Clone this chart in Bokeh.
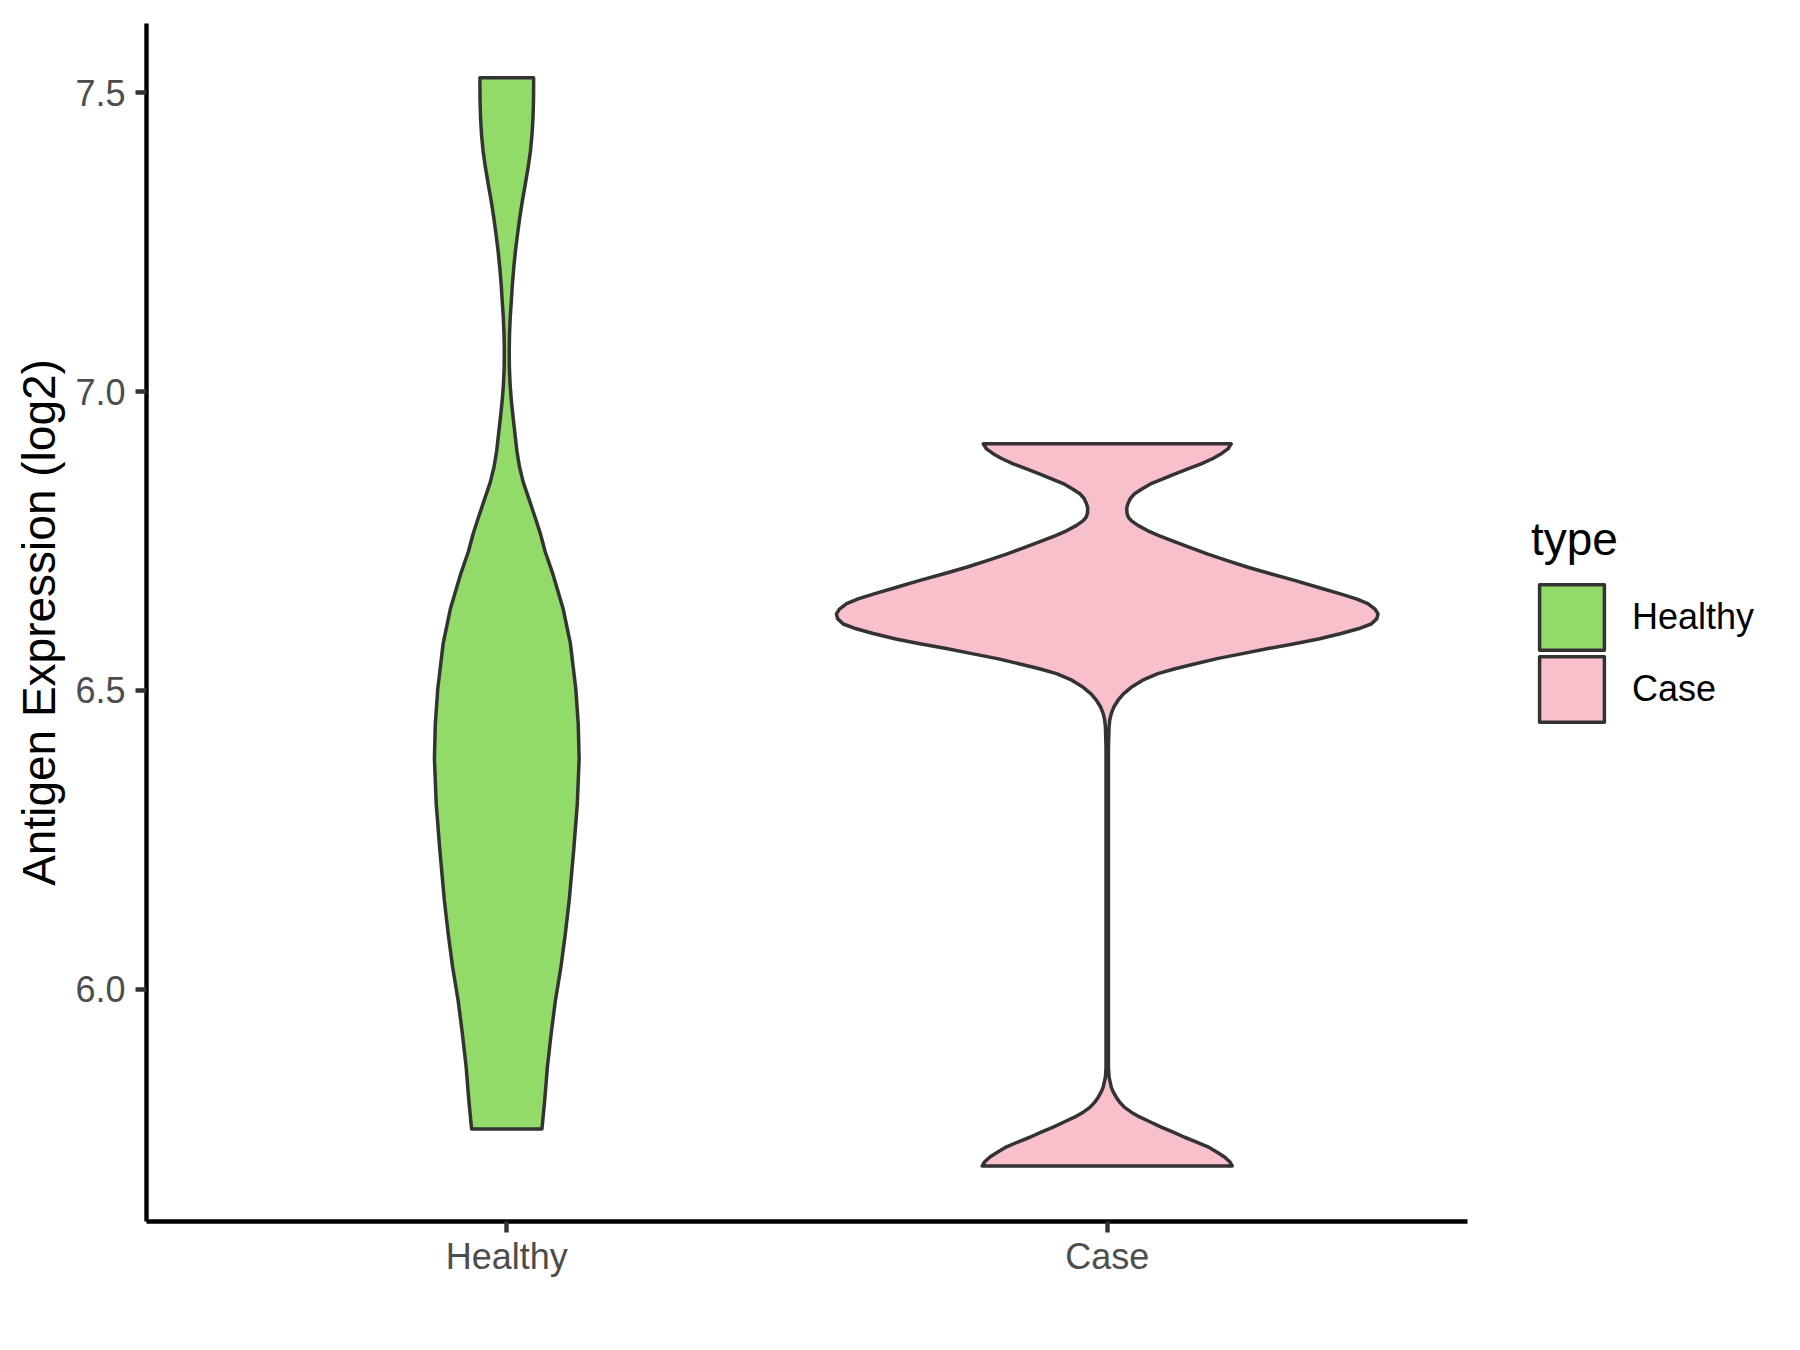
import numpy as np
from bokeh.plotting import figure
from bokeh.models import Range1d, FixedTicker, Legend, LegendItem, PrintfTickFormatter
from bokeh.embed import file_html
from bokeh.resources import INLINE

# ---- data ----
categories = ["Healthy", "Case"]
positions = [1, 2]
fill_colors = ["#93DB69", "#F8C0CB"]

# violin profiles: y value and half-width (x units, ggplot violin scale)
healthy_y = [5.766, 5.813, 5.869, 5.925, 5.981, 6.037, 6.092, 6.148, 6.233, 6.310,
             6.386, 6.444, 6.502, 6.578, 6.636, 6.694, 6.732, 6.762, 6.790, 6.820,
             6.848, 6.875, 6.901, 6.929, 6.957, 6.985, 7.013, 7.041, 7.069, 7.097,
             7.125, 7.152, 7.180, 7.208, 7.236, 7.264, 7.292, 7.320, 7.348, 7.376,
             7.403, 7.431, 7.459, 7.487, 7.510, 7.525]
healthy_hw = [0.0586, 0.0631, 0.0676, 0.0739, 0.0810, 0.0902, 0.0975, 0.1039, 0.1115, 0.1175,
              0.1205, 0.1190, 0.1150, 0.1060, 0.0940, 0.0770, 0.0640, 0.0560, 0.0470, 0.0370,
              0.0275, 0.0210, 0.0168, 0.0137, 0.0105, 0.0076, 0.0055, 0.0043, 0.0041, 0.0046,
              0.0058, 0.0076, 0.0094, 0.0117, 0.0145, 0.0180, 0.0218, 0.0261, 0.0310, 0.0357,
              0.0395, 0.0421, 0.0437, 0.0445, 0.0447, 0.0447]

case_y = [5.704, 5.711, 5.719, 5.727, 5.736, 5.744, 5.752, 5.761, 5.769, 5.778,
          5.786, 5.794, 5.802, 5.811, 5.819, 5.828, 5.836, 5.853, 5.869, 6.405,
          6.438, 6.450, 6.461, 6.472, 6.483, 6.494, 6.505, 6.517, 6.528, 6.536,
          6.544, 6.553, 6.561, 6.570, 6.578, 6.586, 6.595, 6.603, 6.611, 6.620,
          6.628, 6.636, 6.645, 6.653, 6.661, 6.672, 6.684, 6.695, 6.706, 6.717,
          6.728, 6.740, 6.751, 6.759, 6.767, 6.776, 6.784, 6.790, 6.797, 6.806,
          6.812, 6.821, 6.829, 6.837, 6.846, 6.854, 6.862, 6.871, 6.879, 6.888,
          6.896, 6.904, 6.9125]
case_hw = [0.2082, 0.2040, 0.1954, 0.1830, 0.1677, 0.1490, 0.1288, 0.1090, 0.0900, 0.0710,
           0.0538, 0.0400, 0.0289, 0.0205, 0.0150, 0.0100, 0.0067, 0.0030, 0.0020, 0.0020,
           0.0030, 0.0042, 0.0067, 0.0110, 0.0178, 0.0270, 0.0400, 0.0590, 0.0844, 0.1130,
           0.1454, 0.1830, 0.2232, 0.2680, 0.3120, 0.3520, 0.3897, 0.4180, 0.4397, 0.4490,
           0.4510, 0.4460, 0.4340, 0.4150, 0.3897, 0.3520, 0.3120, 0.2720, 0.2343, 0.2000,
           0.1677, 0.1350, 0.1066, 0.0860, 0.0677, 0.0511, 0.0400, 0.0350, 0.0328, 0.0326,
           0.0344, 0.0385, 0.0455, 0.0578, 0.0733, 0.0927, 0.1120, 0.1354, 0.1566, 0.1760,
           0.1900, 0.2010, 0.2065]

y_ticks = [6.0, 6.5, 7.0, 7.5]
y_label = "Antigen Expression (log2)"
legend_title = "type"

FONT = "Liberation Sans"

# panel: x from 0.4 to 2.6 (ggplot discrete expansion); the frame is widened to the
# page edge so the legend can sit inside it, and the x-axis line is bounded to the panel
X0, X1 = 0.4, 2.6
PANEL_W = 1321
FRAME_W = 1800 - 146
x_end = X0 + (X1 - X0) * FRAME_W / PANEL_W

p = figure(width=1800, height=1350, output_backend="svg", toolbar_location=None,
           x_range=Range1d(X0, x_end), y_range=Range1d(5.611, 7.616),
           min_border_left=146, min_border_right=0, min_border_top=23,
           min_border_bottom=129)

p.xgrid.visible = False
p.ygrid.visible = False
p.outline_line_color = None
p.background_fill_color = "white"
p.border_fill_color = "white"

renderers = []
for pos, col, ys, hws in [(positions[0], fill_colors[0], healthy_y, healthy_hw),
                          (positions[1], fill_colors[1], case_y, case_hw)]:
    ys = np.asarray(ys)
    hws = np.asarray(hws)
    px = np.concatenate([pos + hws, (pos - hws)[::-1]])
    py = np.concatenate([ys, ys[::-1]])
    r = p.patch(px, py, fill_color=col, line_color="#333333", line_width=3.5,
                line_join="round")
    renderers.append(r)

# axes
for ax in (p.xaxis[0], p.yaxis[0]):
    ax.axis_line_color = "black"
    ax.axis_line_width = 4.4
    ax.major_tick_line_color = "#333333"
    ax.major_tick_line_width = 4.4
    ax.major_tick_in = 0
    ax.major_tick_out = 11
    ax.minor_tick_line_color = None
    ax.major_label_text_color = "#4D4D4D"
    ax.major_label_text_font = FONT
    ax.major_label_text_font_size = "36px"

p.xaxis.bounds = (X0, X1)
p.xaxis.ticker = FixedTicker(ticks=positions)
p.xaxis.major_label_overrides = {positions[0]: categories[0], positions[1]: categories[1]}
p.xaxis.major_label_standoff = 3

p.yaxis.ticker = FixedTicker(ticks=y_ticks)
p.yaxis.formatter = PrintfTickFormatter(format="%.1f")
p.yaxis.major_label_standoff = 10
p.yaxis.axis_label = y_label
p.yaxis.axis_label_text_font = FONT
p.yaxis.axis_label_text_font_size = "46px"
p.yaxis.axis_label_text_font_style = "normal"
p.yaxis.axis_label_text_color = "black"
p.yaxis.axis_label_standoff = 7


def style_legend(lg):
    lg.title_text_font = FONT
    lg.title_text_font_size = "46px"
    lg.title_text_font_style = "normal"
    lg.title_text_color = "black"
    lg.title_standoff = 10
    lg.label_text_font = FONT
    lg.label_text_font_size = "36px"
    lg.label_text_color = "black"
    lg.glyph_width = 81
    lg.glyph_height = 82
    lg.label_standoff = 20
    lg.spacing = 0
    lg.padding = 0
    lg.margin = 0
    lg.border_line_color = None
    lg.background_fill_alpha = 0


# one legend block per key so the keys can touch, as in ggplot's guide
legend1 = Legend(items=[LegendItem(label=categories[0], renderers=[renderers[0]])],
                 title=legend_title, location=(1385, 563))
legend2 = Legend(items=[LegendItem(label=categories[1], renderers=[renderers[1]])],
                 location=(1385, 491))
for lg in (legend1, legend2):
    style_legend(lg)
    p.add_layout(lg, "center")

open("out.html", "w").write(file_html(p, INLINE))
